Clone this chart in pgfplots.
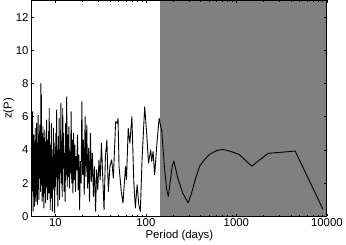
\documentclass[border=0pt]{standalone}
\usepackage{fontspec}
\setmainfont{Liberation Sans}
\usepackage{pgfplots}
\pgfplotsset{compat=1.18}
\begin{document}
\begin{tikzpicture}
\begin{axis}[
  scale only axis, width=298pt, height=218pt,
  xmode=log, xmin=5.5, xmax=10000, ymin=0, ymax=13,
  xtick={10,100,1000,10000}, xticklabels={10,100,1000,10000},
  ytick={0,2,4,6,8,10,12},
  tick align=inside, major tick length=2.5pt, minor tick length=1.5pt,
  axis line style={line width=1pt},
  tick style={black, line width=0.5pt},
  xtick pos=both, ytick pos=both,
  font=\fontsize{11.5}{13}\selectfont,
  /pgf/number format/assume math mode=true,
  xlabel={Period (days)}, ylabel={z(P)},
  xlabel style={yshift=3pt},
  ylabel style={yshift=-5pt},
  xticklabel style={yshift=1pt},
  axis on top,
  clip=true,
]
\addplot[fill=gray, draw=none] coordinates {(143.5,0) (10000,0) (10000,13) (143.5,13)} -- cycle;
\addplot[black, line width=0.9pt, line join=round] coordinates {
(5.556,1.5)(5.587,6.3)(5.618,2.0)(5.650,4.8)(5.682,0.3)(5.714,3.5)(5.747,1.2)(5.780,4.9)(5.814,2.5)(5.848,4.2)
(5.882,0.6)(5.917,3.9)(5.952,1.8)(5.988,5.3)(6.024,2.2)(6.061,3.6)(6.098,0.9)(6.135,4.6)(6.173,2.4)(6.211,5.6)
(6.250,1.3)(6.289,3.2)(6.329,0.7)(6.369,4.4)(6.410,2.7)(6.452,6.1)(6.494,1.6)(6.536,3.8)(6.579,1.0)(6.623,4.9)
(6.667,2.3)(6.711,5.5)(6.757,3.0)(6.803,4.1)(6.849,1.5)(6.897,8.0)(6.944,2.8)(6.993,7.3)(7.042,1.9)(7.092,5.0)
(7.143,0.9)(7.194,4.2)(7.246,2.0)(7.299,5.4)(7.353,1.2)(7.407,3.6)(7.463,0.5)(7.519,4.7)(7.576,2.5)(7.634,5.2)
(7.692,1.4)(7.752,3.9)(7.813,0.8)(7.874,4.5)(7.937,2.2)(8.000,5.8)(8.065,1.7)(8.130,3.4)(8.197,1.0)(8.264,4.6)
(8.333,2.6)(8.403,5.1)(8.475,1.4)(8.547,6.5)(8.621,2.8)(8.696,4.3)(8.772,0.4)(8.850,3.7)(8.929,1.9)(9.009,5.6)
(9.091,1.1)(9.174,4.0)(9.259,0.3)(9.346,3.3)(9.434,2.1)(9.524,5.3)(9.615,1.6)(9.709,4.4)(9.804,0.2)(9.901,3.1)
(10.00,1.8)(10.10,5.0)(10.20,2.4)(10.31,6.4)(10.42,1.3)(10.53,3.6)(10.64,0.6)(10.75,4.8)(10.87,2.3)(10.99,5.9)
(11.11,1.0)(11.24,4.0)(11.36,2.6)(11.49,6.8)(11.63,2.0)(11.76,4.5)(11.90,1.2)(12.05,6.5)(12.20,2.9)(12.35,5.0)
(12.50,1.5)(12.66,3.8)(12.82,0.9)(12.99,5.6)(13.16,2.5)(13.33,7.2)(13.51,1.8)(13.70,4.9)(13.89,2.4)(14.08,5.4)
(14.29,1.7)(14.49,3.9)(14.71,2.6)(14.93,6.3)(15.15,2.0)(15.38,4.6)(15.63,1.4)(15.87,5.0)(16.13,2.2)(16.39,4.3)
(16.67,1.5)(16.95,3.6)(17.24,2.8)(17.54,4.9)(17.86,1.6)(18.18,3.7)(18.52,0.4)(18.87,3.3)(19.23,2.0)(19.61,6.9)
(20.00,2.5)(20.41,4.6)(20.83,1.3)(21.28,6.0)(21.74,2.4)(22.22,5.5)(22.73,1.7)(23.26,4.1)(23.81,0.9)(24.39,5.0)
(25.00,2.1)(25.64,3.8)(26.32,1.2)(27.03,3.0)(27.78,0.3)(28.57,2.8)(29.41,1.6)(30.30,3.4)(31.25,2.2)(32.26,4.4)
(33.33,2.4)(34.48,0.4)(35.71,3.6)(37.04,4.6)(38.46,1.5)(40.00,3.0)
(41.9,3.4)(43.7,2.3)(46.3,5.7)(48.3,5.6)(49.2,5.9)(50.5,3.0)(53.4,1.5)(55.8,0.8)(59.5,3.0)(61.0,2.2)
(63.8,5.3)(66.5,4.4)(70.0,6.0)(73.6,2.0)(76.5,0.5)(80.0,1.9)(83.5,0.7)(86.8,0.3)(90.8,3.5)(97.0,6.6)
(102,5.0)(107,3.2)(113,4.0)(116,3.3)(120,3.9)(125,2.5)(132,4.3)(140,5.9)(150,5.1)(160,3.0)
(170,1.6)(177,1.2)(185,2.0)(195,3.0)(204,3.33)(225,2.3)(255,1.4)(293,0.81)(320,1.4)(350,2.2)
(393,3.02)(450,3.45)(505,3.73)(600,3.95)(706,4.03)(850,3.92)(1072,3.73)(1476,3.02)(2244,3.79)(4463,3.93)
(9080,0.41)
};
\end{axis}
\end{tikzpicture}
\end{document}
